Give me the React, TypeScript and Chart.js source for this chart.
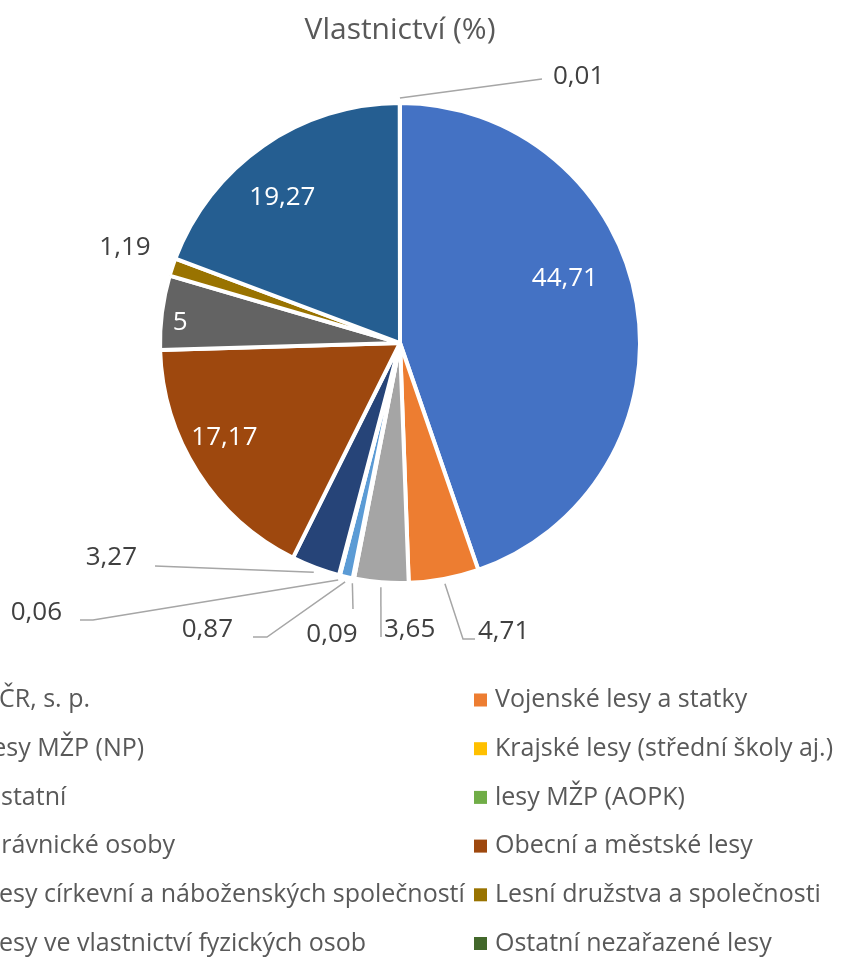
import React, { useEffect, useRef } from "react";
import { Chart, registerables } from "chart.js";

Chart.register(...registerables);

// Ownership categories, clockwise from 12 o'clock
const categories: string[] = [
  "LČR, s. p.",
  "Vojenské lesy a statky",
  "lesy MŽP (NP)",
  "Krajské lesy (střední školy aj.)",
  "ostatní",
  "lesy MŽP (AOPK)",
  "právnické osoby",
  "Obecní a městské lesy",
  "Lesy církevní a náboženských společností",
  "Lesní družstva a společnosti",
  "Lesy ve vlastnictví fyzických osob",
  "Ostatní nezařazené lesy",
];

// Share of forest area (%)
const shares: number[] = [44.71, 4.71, 3.65, 0.09, 0.87, 0.06, 3.27, 17.17, 5, 1.19, 19.27, 0.01];

const sliceColors: string[] = [
  "#4472C4", "#ED7D31", "#A5A5A5", "#FFC000", "#5B9BD5", "#70AD47",
  "#264478", "#9E480E", "#636363", "#997300", "#255E91", "#43682B",
];

const chartTitle = "Vlastnictví (%)";

const FONT = "'Open Sans', 'Noto Sans', sans-serif";
const CANVAS_W = 901;
const CANVAS_H = 959;
const SHIFT_X = 60; // canvas starts left of the page edge

// Labels drawn inside the slice: angular nudge (deg) and distance as a fraction of the radius
const insideLabels: Record<number, { turn: number; dist: number }> = {
  0: { turn: -11.7, dist: 0.737 },
  10: { turn: -4.2, dist: 0.78 },
  7: { turn: 4.4, dist: 0.83 },
  8: { turn: -2.1, dist: 0.92 },
};

// Labels drawn outside with leader lines, positioned relative to the pie centre
type OutLabel = {
  elbow?: [number, number];
  tail?: number;
  text: [number, number];
  align: CanvasTextAlign;
};
const outsideLabels: Record<number, OutLabel> = {
  11: { elbow: [142, -264], tail: 0, text: [153, -266], align: "left" },
  1: { elbow: [63, 296], tail: 12, text: [78, 289], align: "left" },
  2: { elbow: [-19, 294], tail: 0, text: [-16, 287], align: "left" },
  3: { elbow: [-47, 266], tail: 0, text: [-68, 292], align: "center" },
  4: { elbow: [-133, 294], tail: -14, text: [-167, 287], align: "right" },
  5: { elbow: [-307, 277], tail: -13, text: [-338, 270], align: "right" },
  6: { elbow: [-245, 223], tail: 0, text: [-263, 215], align: "right" },
  9: { text: [-275, -95], align: "center" },
};

const fmt = (v: number) => String(v).replace(".", ",");

const decorPlugin = {
  id: "decor",
  afterDatasetsDraw(chart: any) {
    const ctx: CanvasRenderingContext2D = chart.ctx;
    const arcs = chart.getDatasetMeta(0).data;
    const first = arcs[0];
    const cx = first.x;
    const cy = first.y;

    ctx.save();
    // Title
    ctx.fillStyle = "#595959";
    ctx.font = `30px ${FONT}`;
    ctx.textAlign = "center";
    ctx.textBaseline = "middle";
    ctx.fillText(chartTitle, cx, 30);

    // Value labels
    arcs.forEach((arc: any, i: number) => {
      const { startAngle, endAngle, outerRadius } = arc;
      const mid = (startAngle + endAngle) / 2;
      const text = fmt(shares[i]);
      ctx.font = `26px ${FONT}`;
      ctx.textBaseline = "middle";
      const inside = insideLabels[i];
      if (inside) {
        const a = mid + (inside.turn * Math.PI) / 180;
        const r = outerRadius * inside.dist;
        ctx.fillStyle = "#FFFFFF";
        ctx.textAlign = "center";
        ctx.fillText(text, cx + Math.cos(a) * r, cy + Math.sin(a) * r);
        return;
      }
      const out = outsideLabels[i];
      if (!out) return;
      if (out.elbow) {
        const sx = cx + Math.cos(mid) * (outerRadius + 5);
        const sy = cy + Math.sin(mid) * (outerRadius + 5);
        const ex = cx + out.elbow[0];
        const ey = cy + out.elbow[1];
        ctx.strokeStyle = "#A6A6A6";
        ctx.lineWidth = 1.5;
        ctx.beginPath();
        ctx.moveTo(sx, sy);
        ctx.lineTo(ex, ey);
        if (out.tail) ctx.lineTo(ex + out.tail, ey);
        ctx.stroke();
      }
      ctx.fillStyle = "#404040";
      ctx.textAlign = out.align;
      ctx.fillText(text, cx + out.text[0], cy + out.text[1]);
    });

    // Legend in two columns
    const colMarker = [24, 534];
    const colText = [46, 555];
    const rowTop = 700;
    const rowStep = 48.7;
    ctx.font = `25px ${FONT}`;
    ctx.textAlign = "left";
    ctx.textBaseline = "middle";
    categories.forEach((name, i) => {
      const col = i % 2;
      const row = Math.floor(i / 2);
      const y = rowTop + row * rowStep;
      ctx.fillStyle = sliceColors[i];
      ctx.fillRect(colMarker[col], y - 6.5, 13, 13);
      ctx.fillStyle = "#595959";
      ctx.fillText(name, colText[col], y);
    });
    ctx.restore();
  },
};

export default function App() {
  const canvasRef = useRef<HTMLCanvasElement | null>(null);

  useEffect(() => {
    if (!canvasRef.current) return;
    const chart = new Chart(canvasRef.current, {
      type: "pie",
      data: {
        labels: categories,
        datasets: [
          {
            data: shares,
            backgroundColor: sliceColors,
            borderColor: "#FFFFFF",
            borderWidth: 4,
          },
        ],
      },
      options: {
        responsive: false,
        animation: false,
        events: [],
        layout: {
          padding: { left: 400 + SHIFT_X - 242, right: CANVAS_W - (400 + SHIFT_X + 242), top: 101, bottom: CANVAS_H - 585 },
        },
        plugins: {
          legend: { display: false },
          title: { display: false },
          tooltip: { enabled: false },
        },
      },
      plugins: [decorPlugin],
    });
    return () => chart.destroy();
  }, []);

  return (
    <div style={{ position: "absolute", left: -SHIFT_X, top: 0, width: CANVAS_W, height: CANVAS_H, overflow: "hidden" }}>
      <canvas ref={canvasRef} width={CANVAS_W} height={CANVAS_H} style={{ display: "block" }} />
    </div>
  );
}
